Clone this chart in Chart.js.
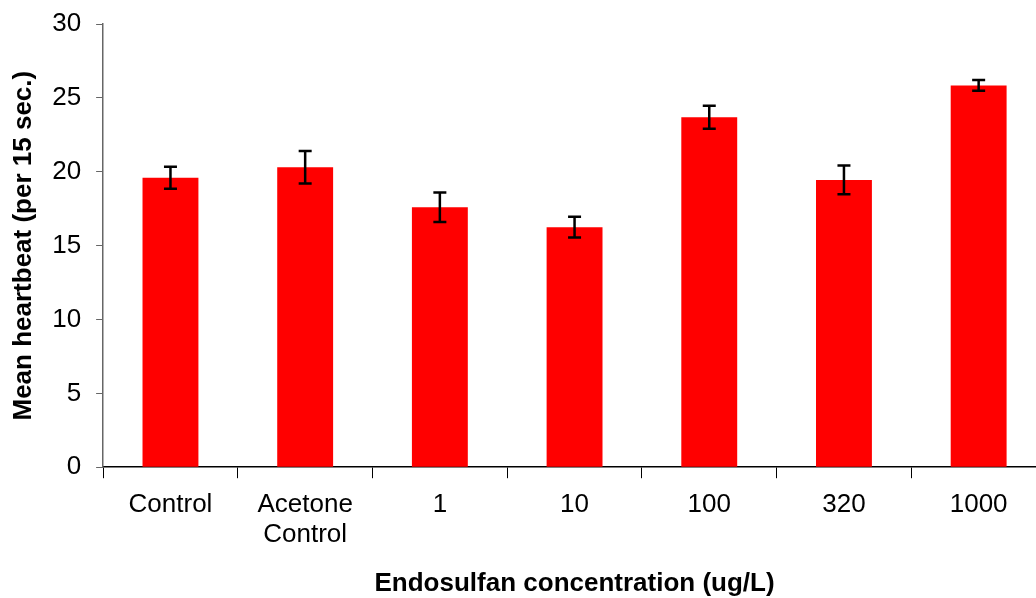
<!DOCTYPE html>
<html>
<head>
<meta charset="utf-8">
<script src="https://cdn.jsdelivr.net/npm/chart.js@4/dist/chart.umd.min.js"></script>
<style>
    html, body { margin: 0; padding: 0; background: #fff; overflow: hidden; }
    #wrap { position: relative; width: 1046px; height: 598px; }
</style>
</head>
<body>
<div id="wrap"><canvas id="heartChart"></canvas></div>
<script>
// chart data
const categories = ["Control", ["Acetone", "Control"], "1", "10", "100", "320", "1000"];
const meanHeartbeat = [19.6, 20.3, 17.6, 16.25, 23.7, 19.45, 25.85];
const errorValues = [0.75, 1.1, 1.0, 0.7, 0.78, 0.97, 0.37];
const yTicks = [0, 5, 10, 15, 20, 25, 30];

const fontFamily = "'Liberation Sans', Arial, sans-serif";

// error bars drawn from the scales
const errorBarPlugin = {
    id: "errorBars",
    afterDatasetsDraw(chart) {
        const ctx = chart.ctx;
        const meta = chart.getDatasetMeta(0);
        const yScale = chart.scales.y;
        ctx.save();
        ctx.strokeStyle = "#000";
        ctx.lineWidth = 2.5;
        meta.data.forEach((bar, i) => {
            const x = bar.x;
            const top = yScale.getPixelForValue(meanHeartbeat[i] + errorValues[i]);
            const bottom = yScale.getPixelForValue(meanHeartbeat[i] - errorValues[i]);
            const cap = 6.5;
            ctx.beginPath();
            ctx.moveTo(x, top);
            ctx.lineTo(x, bottom);
            ctx.moveTo(x - cap, top);
            ctx.lineTo(x + cap, top);
            ctx.moveTo(x - cap, bottom);
            ctx.lineTo(x + cap, bottom);
            ctx.stroke();
        });
        ctx.restore();
    }
};

const ctx = document.getElementById("heartChart").getContext("2d");

new Chart(ctx, {
    type: "bar",
    data: {
        labels: categories,
        datasets: [{
            label: "Mean heartbeat",
            data: meanHeartbeat,
            backgroundColor: "#FF0000",
            borderWidth: 0,
            barPercentage: 0.415,
            categoryPercentage: 1.0
        }]
    },
    options: {
        responsive: true,
        maintainAspectRatio: false,
        animation: false,
        layout: { padding: { left: 4, right: 0, top: 8, bottom: 1 } },
        plugins: {
            legend: { display: false },
            tooltip: { enabled: false }
        },
        scales: {
            x: {
                grid: {
                    display: true,
                    drawOnChartArea: false,
                    drawTicks: true,
                    tickLength: 11,
                    offset: true,
                    color: "#000"
                },
                border: { display: true, color: "#000", width: 1.5 },
                ticks: {
                    color: "#000",
                    padding: 12,
                    maxRotation: 0,
                    autoSkip: false,
                    font: { family: fontFamily, size: 26, lineHeight: 1.15 }
                },
                title: {
                    display: true,
                    text: "Endosulfan concentration (ug/L)",
                    color: "#000",
                    padding: { top: 9, bottom: 0 },
                    font: { family: fontFamily, size: 26, weight: "bold", lineHeight: 1.0 }
                }
            },
            y: {
                min: 0,
                max: 30,
                afterBuildTicks(axis) {
                    axis.ticks = yTicks.map(v => ({ value: v }));
                },
                grid: {
                    display: true,
                    drawOnChartArea: false,
                    drawTicks: true,
                    tickLength: 7,
                    color: "#666"
                },
                border: { display: true, color: "#666", width: 1.5 },
                ticks: {
                    color: "#000",
                    padding: 15,
                    font: { family: fontFamily, size: 26, lineHeight: 0.7 }
                },
                title: {
                    display: true,
                    text: "Mean heartbeat (per 15 sec.)",
                    color: "#000",
                    padding: { top: 6.5, bottom: 0.7 },
                    font: { family: fontFamily, size: 26, weight: "bold", lineHeight: 1.0 }
                }
            }
        }
    },
    plugins: [errorBarPlugin]
});
</script>
</body>
</html>
